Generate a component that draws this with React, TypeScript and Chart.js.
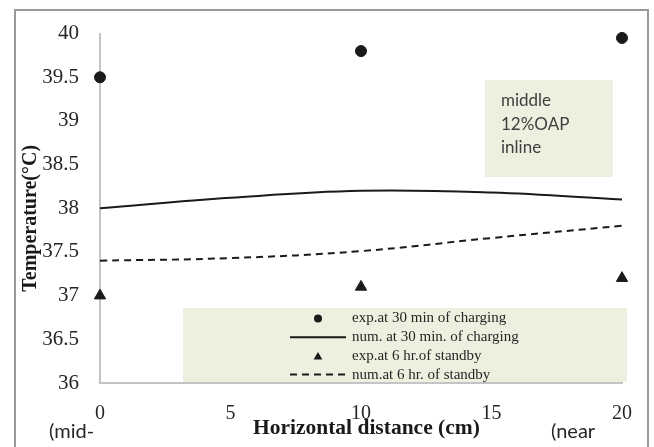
import React, { useEffect, useRef } from "react";
import { Chart, registerables } from "chart.js";

Chart.register(...registerables);

// ---- data ----
const expX = [0, 10, 20];
const exp30 = [39.5, 39.8, 39.95];
const exp6 = [37.0, 37.1, 37.2];
const numX = [0, 5, 10, 15, 20];
const num30 = [38.0, 38.12, 38.2, 38.18, 38.1];
const num6 = [37.4, 37.43, 37.51, 37.66, 37.8];
const seriesLabels = [
  "exp.at 30 min of charging",
  "num. at 30 min. of charging",
  "exp.at 6 hr.of standby",
  "num.at 6 hr. of standby",
];
const noteLines = ["middle", "12%OAP", "inline"];
const xEndNotes = ["(mid-", "(near"];
const yTitle = "Temperature(°C)";
const xTitle = "Horizontal distance (cm)";

const SERIF = "'Liberation Serif', 'Times New Roman', serif";
const SANS = "Lato, 'Open Sans', sans-serif";
const BOX = "#ebf0df";
const INK = "#1a1a1a";

const pts = (xs: number[], ys: number[]) => xs.map((x, i) => ({ x, y: ys[i] }));

const decor = {
  id: "decor",
  beforeDraw(chart: any) {
    const { ctx, width, height } = chart;
    ctx.save();
    ctx.fillStyle = "#ffffff";
    ctx.fillRect(0, 0, width, height);
    ctx.restore();
  },
  beforeDatasetsDraw(chart: any) {
    const ctx = chart.ctx;
    ctx.save();
    ctx.fillStyle = BOX;
    ctx.fillRect(485, 80, 128, 97);
    ctx.fillRect(183, 308, 444, 74);
    ctx.restore();
  },
  afterDatasetsDraw(chart: any) {
    const ctx = chart.ctx;
    const ds = chart.data.datasets;
    ctx.save();
    // legend
    const symX = 318;
    for (let i = 0; i < ds.length; i++) {
      const d = ds[i];
      const y = 318.5 + i * 18.7;
      ctx.fillStyle = INK;
      ctx.strokeStyle = INK;
      if (d.showLine === false) {
        ctx.beginPath();
        if (d.pointStyle === "triangle") {
          const r = 5;
          for (let k = 0; k < 3; k++) {
            const a = (k * 2 * Math.PI) / 3;
            const px = symX + Math.sin(a) * r;
            const py = y + 1 - Math.cos(a) * r;
            if (k === 0) ctx.moveTo(px, py);
            else ctx.lineTo(px, py);
          }
          ctx.closePath();
        } else {
          ctx.arc(symX, y, 4, 0, Math.PI * 2);
        }
        ctx.fill();
      } else {
        ctx.lineWidth = 2;
        ctx.setLineDash(d.borderDash || []);
        ctx.beginPath();
        ctx.moveTo(290, y);
        ctx.lineTo(346, y);
        ctx.stroke();
        ctx.setLineDash([]);
      }
      ctx.fillStyle = "#262626";
      ctx.font = `15px ${SERIF}`;
      ctx.textAlign = "left";
      ctx.textBaseline = "middle";
      ctx.fillText(d.label, 352, y);
    }
    // annotation
    ctx.fillStyle = "#404040";
    ctx.font = `17px ${SANS}`;
    ctx.textBaseline = "alphabetic";
    noteLines.forEach((t, i) => ctx.fillText(t, 501, 106 + i * 23.5));
    // x end notes
    ctx.font = `20px ${SANS}`;
    ctx.fillStyle = "#262626";
    ctx.fillText(xEndNotes[0], 49, 438);
    ctx.fillText(xEndNotes[1], 551, 438);
    // outer frame
    ctx.strokeStyle = "#9a9a9a";
    ctx.lineWidth = 2;
    ctx.strokeRect(15, 10, 633, 460);
    ctx.restore();
  },
};

export default function App() {
  const ref = useRef<HTMLCanvasElement | null>(null);
  useEffect(() => {
    if (!ref.current) return;
    const chart = new Chart(ref.current, {
      type: "line",
      data: {
        datasets: [
          {
            label: seriesLabels[0],
            data: pts(expX, exp30),
            showLine: false,
            pointStyle: "circle",
            pointRadius: 5.5,
            pointBackgroundColor: INK,
            pointBorderColor: INK,
            borderColor: INK,
            backgroundColor: INK,
          },
          {
            label: seriesLabels[1],
            data: pts(numX, num30),
            borderColor: INK,
            borderWidth: 2,
            pointRadius: 0,
            tension: 0.4,
            fill: false,
          },
          {
            label: seriesLabels[2],
            data: pts(expX, exp6),
            showLine: false,
            pointStyle: "triangle",
            pointRadius: 6.5,
            pointBackgroundColor: INK,
            pointBorderColor: INK,
            borderColor: INK,
            backgroundColor: INK,
          },
          {
            label: seriesLabels[3],
            data: pts(numX, num6),
            borderColor: INK,
            borderWidth: 2,
            borderDash: [7, 5],
            pointRadius: 0,
            tension: 0.4,
            fill: false,
          },
        ] as any,
      },
      options: {
        animation: false,
        responsive: false,
        clip: false as any,
        layout: { padding: { left: 0, right: 32, top: 27, bottom: 0 } },
        plugins: { legend: { display: false }, tooltip: { enabled: false } },
        scales: {
          x: {
            type: "linear",
            min: 0,
            max: 20,
            afterFit: (s: any) => {
              s.height = 64;
            },
            ticks: {
              stepSize: 5,
              font: { family: SERIF, size: 20 },
              color: "#262626",
              padding: 19,
              maxRotation: 0,
            },
            grid: { display: false, drawTicks: false },
            border: { display: true, color: "#c4c4c4", width: 2 },
            title: {
              display: true,
              text: "  " + xTitle,
              font: { family: SERIF, size: 21.5, weight: "bold" },
              color: INK,
              padding: { top: 0, bottom: 6 },
            },
          },
          y: {
            type: "linear",
            min: 36,
            max: 40,
            afterFit: (s: any) => {
              s.width = 100;
            },
            ticks: {
              stepSize: 0.5,
              font: { family: SERIF, size: 21 },
              color: "#262626",
              padding: 21,
              callback: (v: any) => String(v),
            },
            grid: { display: false, drawTicks: false },
            border: { display: true, color: "#c4c4c4", width: 2 },
            title: {
              display: true,
              text: yTitle + "    ",
              font: { family: SERIF, size: 20, weight: "bold" },
              color: INK,
              padding: { top: 19, bottom: 0 },
            },
          },
        },
      },
      plugins: [decor],
    });
    return () => chart.destroy();
  }, []);
  return (
    <div style={{ position: "absolute", left: 0, top: 0, width: 654, height: 447 }}>
      <canvas ref={ref} width={654} height={447} style={{ display: "block", width: 654, height: 447 }} />
    </div>
  );
}
